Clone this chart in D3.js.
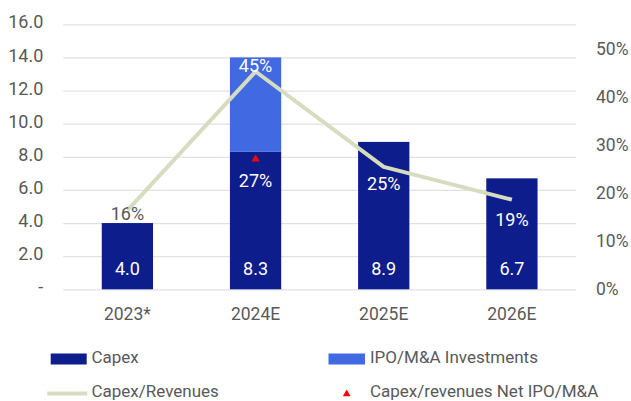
<!DOCTYPE html>
<html>
<head>
<meta charset="utf-8">
<script src="https://cdn.jsdelivr.net/npm/d3@7/dist/d3.min.js"></script>
<style>
  html, body { margin: 0; padding: 0; background: #ffffff; }
  svg { display: block; font-family: Roboto, "Noto Sans", sans-serif; }
</style>
</head>
<body>
<svg id="chart" width="631" height="401"></svg>
<script>
// Capex outlook, bn, with capex/revenue ratio on the secondary axis
const years = ["2023*", "2024E", "2025E", "2026E"];
const capex = [4.0, 8.3, 8.9, 6.7];
const ipoMa = [0, 5.7, 0, 0];
const capexToRevenue = [0.164, 0.452, 0.254, 0.186];
const netRatioYear = "2024E";
const netRatio = 0.27;
const leftTicks = [0, 2, 4, 6, 8, 10, 12, 14, 16];
const rightTicks = [0, 0.1, 0.2, 0.3, 0.4, 0.5];

const colors = {
  capex: "#0e1d8c",
  ipo: "#4169e1",
  line: "#d5dcbf",
  marker: "#ff0000",
  grid: "#e1e1e1",
  text: "#595959"
};

const svg = d3.select("#chart");
const plot = { left: 63.3, right: 576, top: 24.3, bottom: 289.3 };

const x = d3.scaleBand().domain(years)
  .range([plot.left, plot.right]).paddingInner(0.6).paddingOuter(0.3);
const y = d3.scaleLinear().domain([0, 16]).range([plot.bottom, plot.top]);
const yR = d3.scaleLinear().domain([0, 0.55]).range([plot.bottom, plot.top]);
const cx = d => x(d) + x.bandwidth() / 2;

// horizontal grid from the left axis
const leftAxis = d3.axisLeft(y).tickValues(leftTicks)
  .tickSize(-(plot.right - plot.left)).tickPadding(20)
  .tickFormat(d => d === 0 ? "-" : d.toFixed(1));
const gL = svg.append("g").attr("transform", `translate(${plot.left},0)`).call(leftAxis);
gL.select(".domain").remove();
gL.selectAll(".tick line").attr("stroke", colors.grid).attr("stroke-width", 1.3);
gL.selectAll(".tick text").attr("fill", colors.text).attr("font-size", 18)
  .attr("font-family", "Roboto, sans-serif").attr("dy", "0.2em");

const rightAxis = d3.axisRight(yR).tickValues(rightTicks).tickSize(0).tickPadding(20)
  .tickFormat(d3.format(".0%"));
const gR = svg.append("g").attr("transform", `translate(${plot.right},0)`).call(rightAxis);
gR.select(".domain").remove();
gR.selectAll(".tick text").attr("fill", colors.text).attr("font-size", 17.5)
  .attr("font-family", "Roboto, sans-serif");

const bottomAxis = d3.axisBottom(x).tickSize(0).tickPadding(18);
const gB = svg.append("g").attr("transform", `translate(0,${plot.bottom})`).call(bottomAxis);
gB.select(".domain").remove();
gB.selectAll(".tick text").attr("fill", colors.text).attr("font-size", 17.5)
  .attr("font-family", "Roboto, sans-serif");

// stacked bars
const rows = years.map((yr, i) => ({ yr, capex: capex[i], ipo: ipoMa[i] }));
svg.append("g").selectAll("rect").data(rows).join("rect")
  .attr("x", d => x(d.yr)).attr("width", x.bandwidth())
  .attr("y", d => y(d.capex)).attr("height", d => y(0) - y(d.capex))
  .attr("fill", colors.capex);
svg.append("g").selectAll("rect").data(rows.filter(d => d.ipo > 0)).join("rect")
  .attr("x", d => x(d.yr)).attr("width", x.bandwidth())
  .attr("y", d => y(d.capex + d.ipo)).attr("height", d => y(d.capex) - y(d.capex + d.ipo))
  .attr("fill", colors.ipo);

// capex values near the base of each bar
svg.append("g").selectAll("text").data(rows).join("text")
  .attr("x", d => cx(d.yr)).attr("y", y(0) - 21)
  .attr("text-anchor", "middle").attr("dominant-baseline", "central")
  .attr("fill", "#ffffff").attr("font-size", 18)
  .text(d => d.capex.toFixed(1));

// capex / revenues line
const pts = years.map((yr, i) => ({ yr, v: capexToRevenue[i] }));
svg.append("path").datum(pts)
  .attr("fill", "none").attr("stroke", colors.line).attr("stroke-width", 4)
  .attr("stroke-linejoin", "round")
  .attr("d", d3.line().x(d => cx(d.yr)).y(d => yR(d.v)));

// ratio net of IPO/M&A
const tri = d3.symbol().type(d3.symbolTriangle).size(30);
svg.append("path").attr("d", tri())
  .attr("transform", `translate(${cx(netRatioYear)},${yR(netRatio)})`)
  .attr("fill", colors.marker);

// ratio labels
const pctDy = [3, -6, 17, 20];
svg.append("g").selectAll("text").data(pts).join("text")
  .attr("x", d => cx(d.yr)).attr("y", (d, i) => yR(d.v) + pctDy[i])
  .attr("text-anchor", "middle").attr("dominant-baseline", "central")
  .attr("fill", (d, i) => i === 0 ? colors.text : "#ffffff").attr("font-size", 18)
  .text(d => d3.format(".0%")(d.v));
svg.append("text")
  .attr("x", cx(netRatioYear)).attr("y", yR(netRatio) + 21.5)
  .attr("text-anchor", "middle").attr("dominant-baseline", "central")
  .attr("fill", "#ffffff").attr("font-size", 18)
  .text(d3.format(".0%")(netRatio));

// legend
const legend = svg.append("g").attr("font-size", 17).attr("fill", colors.text);
legend.append("rect").attr("x", 50.7).attr("y", 353.5).attr("width", 36).attr("height", 11).attr("fill", colors.capex);
legend.append("text").attr("x", 91.5).attr("y", 362.8).text("Capex");
legend.append("rect").attr("x", 328.5).attr("y", 353.5).attr("width", 36.5).attr("height", 11).attr("fill", colors.ipo);
legend.append("text").attr("x", 370).attr("y", 362.8).text("IPO/M&A Investments");
legend.append("line").attr("x1", 47.3).attr("x2", 87.3).attr("y1", 393.5).attr("y2", 393.5)
  .attr("stroke", colors.line).attr("stroke-width", 4);
legend.append("text").attr("x", 91.5).attr("y", 396.5).text("Capex/Revenues");
legend.append("path").attr("d", d3.symbol().type(d3.symbolTriangle).size(26)())
  .attr("transform", "translate(346.7,394)").attr("fill", colors.marker);
legend.append("text").attr("x", 370).attr("y", 396.5).text("Capex/revenues Net IPO/M&A");
</script>
</body>
</html>
